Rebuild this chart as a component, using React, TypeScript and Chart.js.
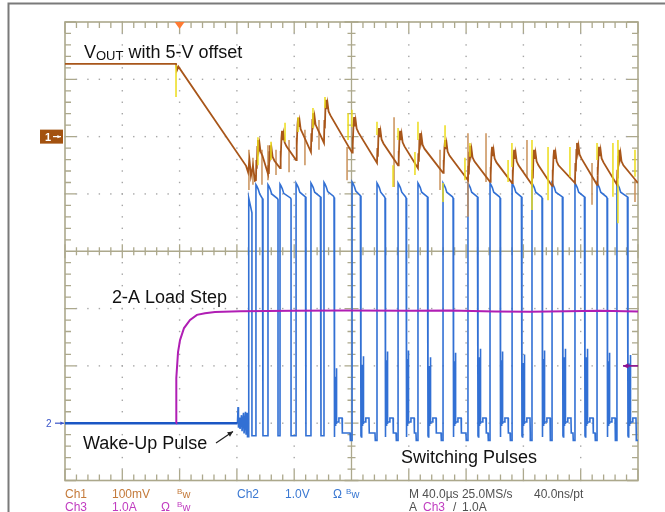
import React, { useEffect, useRef } from "react";
import { Chart, registerables } from "chart.js";

Chart.register(...registerables);

// ---------------- DATA (time in µs, amplitude in scope divisions) ----------------
const timeMinUs = 0;
const timeMaxUs = 400; // 10 div x 40 µs
const divMin = -4;
const divMax = 4;
const xDivCount = 10;
const yDivCount = 8;
const minorPerDiv = 5;

// Ch2 (switch node) – switching pulse edges
const pulseRiseUs = [128.4, 133.3, 141.7, 150.1, 161.3, 171.7, 180.8, 200.4, 217.8, 232.5, 246.4, 263.9, 281.3, 296.7, 312.1, 326.0, 340.0, 356.0, 371.4, 385.3];
const pulseFallUs = [130.5, 138.2, 148.7, 157.8, 168.2, 178.7, 187.8, 206.6, 223.4, 238.1, 253.4, 270.9, 288.3, 303.7, 319.0, 333.0, 347.6, 363.0, 378.4, 393.0];
const pulseTopDiv = [0.93, 1.16, 1.16, 1.17, 1.19, 1.19, 1.2, 1.21, 1.19, 1.19, 1.19, 1.19, 1.19, 1.19, 1.19, 1.19, 1.19, 1.19, 1.19, 1.19];
const ringPeakDiv: (number | null)[] = [null, null, null, null, null, null, -2.49, -2.28, -2.2, -2.18, -2.3, -2.22, -2.15, -2.2, -2.25, -2.18, -2.15, -2.15, -2.22, -2.26];
const ch2GroundUs = [0, 120.4];
const ch2GroundDiv = [-3.0, -3.0];
const wakeUs = [120.4, 120.8, 121.1, 121.8, 122.2, 123.2, 123.6, 124.6, 125.0, 126.0, 126.4, 127.1, 127.4, 127.8, 128.0];
const wakeDiv = [-3.0, -2.72, -3.08, -2.9, -3.1, -2.86, -3.14, -2.82, -3.18, -2.8, -3.2, -2.82, -3.25, -2.88, -3.25];
const ch2LowDiv = -3.22;

// Ch1 (VOUT, AC with offset)
const ch1LeadUs = [0, 77.5, 78.2, 79.2, 126.4, 127.8, 128.8, 129.8, 131.2, 132.6];
const ch1LeadDiv = [3.27, 3.27, 3.16, 3.22, 1.49, 1.38, 1.59, 1.31, 1.49, 1.23];
const ch1PeakDiv: (number | null)[] = [null, 1.94, 1.85, 2.1, 2.33, 2.41, 2.64, 2.34, 2.15, 2.1, 2.06, 1.94, 1.84, 1.82, 1.77, 1.77, 1.77, 1.89, 1.82, 1.77];
const ch1TroughDiv: (number | null)[] = [null, 1.24, 1.35, 1.45, 1.59, 1.73, 1.89, 1.72, 1.54, 1.5, 1.45, 1.37, 1.24, 1.21, 1.19, 1.16, 1.14, 1.19, 1.16, 1.16];
const ch1EndDiv = 1.19;

// Ch1 noise spikes (pale) and Ch4 spikes (yellow)
const paleSpikeUs = [128.4, 131.2, 137.5, 141.7, 147.3, 156.4, 167.5, 177.3, 196.9, 229.7, 261.8, 281.3, 293.9, 322.5, 367.9, 397.9];
const paleSpikeTop = [1.77, 1.63, 1.77, 1.85, 1.77, 1.94, 2.12, 2.29, 1.82, 2.34, 1.77, 2.06, 2.06, 1.94, 1.54, 1.24];
const paleSpikeBot = [1.07, 1.16, 1.16, 1.24, 1.33, 1.38, 1.5, 1.77, 1.24, 1.12, 1.07, 0.6, 1.21, 1.28, 0.81, 0.86];
const yellowSpikeUs = [77.5, 134.7, 143.8, 153.6, 162.7, 173.1, 181.5, 197.6, 200.3, 217.8, 229.0, 232.5, 244.3, 246.4, 263.9, 265.3, 279.2, 282.7, 309.3, 312.0, 326.0, 337.2, 352.5, 371.4, 382.5, 386.0, 397.9];
const yellowSpikeTop = [3.25, 1.99, 1.91, 2.24, 2.34, 2.5, 2.69, 2.41, 2.47, 2.26, 1.5, 2.15, 1.73, 2.26, 1.19, 2.2, 1.63, 1.89, 1.59, 1.89, 1.94, 1.82, 1.82, 1.89, 1.89, 1.94, 1.77];
const yellowSpikeBot = [2.69, 1.5, 1.59, 1.91, 2.08, 2.15, 2.5, 1.94, 2.17, 2.03, 1.12, 1.94, 1.33, 1.94, 0.86, 1.82, 1.24, 1.65, 1.21, 1.47, 0.72, 0.89, 1.3, 1.59, 0.95, 0.49, 1.3];

// Ch3 (load current)
const ch3Us = [77.5, 77.7, 78.9, 80.3, 83.1, 87.3, 92.1, 97.7, 104.7, 122.2, 160, 195.5, 240, 268.8, 300, 324.6, 350, 373.5, 400];
const ch3Div = [-3.0, -2.21, -1.76, -1.55, -1.34, -1.2, -1.11, -1.08, -1.06, -1.045, -1.04, -1.035, -1.04, -1.035, -1.05, -1.055, -1.045, -1.04, -1.05];

const triggerUs = 80;
const triggerLevelDiv = -2;
const ch1RefDiv = 2;
const ch2RefDiv = -3;

// ---------------- COLORS ----------------
const C_CH1 = "#a8561a";
const C_CH1_PALE = "#c99058";
const C_CH2 = "#3270d4";
const C_CH2_DARK = "#1a56c4";
const C_CH3 = "#b01eb4";
const C_CH4 = "#ecdc1a";
const C_GRAT = "#aca88c";
const FONT = "'Liberation Sans', Arial, sans-serif";

type P = { x: number; y: number | null };

function buildCh2(): P[] {
  const pts: P[] = wakeUs.map((x, i) => ({ x, y: wakeDiv[i] }));
  for (let i = 0; i < pulseRiseUs.length; i++) {
    const r = pulseRiseUs[i];
    const f = pulseFallUs[i];
    const h = pulseTopDiv[i];
    const s = ringPeakDiv[i];
    const n = i + 1 < pulseRiseUs.length ? pulseRiseUs[i + 1] : timeMaxUs;
    pts.push({ x: r, y: ch2LowDiv }, { x: r, y: h });
    if (f - r > 3) {
      pts.push({ x: r + 0.7, y: h - 0.03 }, { x: r + 1.6, y: h - 0.08 }, { x: r + 2.6, y: h - 0.16 });
    }
    if (f - 0.4 > r + 2.6) pts.push({ x: f - 0.4, y: h - 0.24 });
    pts.push({ x: f, y: h - 0.26 }, { x: f, y: ch2LowDiv });
    if (s == null) {
      pts.push({ x: n, y: ch2LowDiv });
    } else {
      pts.push(
        { x: f + 0.3, y: -3.24 }, { x: f + 0.45, y: s }, { x: f + 0.6, y: -3.05 },
        { x: f + 0.75, y: s + 0.05 }, { x: f + 0.9, y: -3.0 }, { x: f + 1.05, y: s + 0.15 },
        { x: f + 1.2, y: -3.05 }, { x: f + 1.35, y: s + 0.3 }, { x: f + 1.5, y: -3.0 },
        { x: f + 1.65, y: s + 0.45 }, { x: f + 1.9, y: -2.98 },
        { x: f + 3.2, y: -2.98 }, { x: f + 3.4, y: -2.91 },
        { x: f + 5.6, y: -2.91 }, { x: f + 5.8, y: -3.17 }
      );
      const a2 = Math.max(f + 5.8, n - 1.4);
      pts.push({ x: a2, y: -3.17 }, { x: Math.max(a2, n - 1.2), y: -3.3 }, { x: n, y: -3.3 });
    }
  }
  return pts;
}

function buildCh1(): P[] {
  const pts: P[] = ch1LeadUs.map((x, i) => ({ x, y: ch1LeadDiv[i] }));
  for (let i = 1; i < pulseRiseUs.length; i++) {
    const r = pulseRiseUs[i];
    const p = ch1PeakDiv[i] as number;
    const t = ch1TroughDiv[i] as number;
    pts.push(
      { x: r, y: t }, { x: r + 0.3, y: p - 0.35 }, { x: r + 0.6, y: p - 0.5 },
      { x: r + 1.0, y: p - 0.12 }, { x: r + 1.4, y: p }, { x: r + 2.0, y: p - 0.16 },
      { x: r + 2.5, y: p - 0.06 }, { x: r + 3.2, y: p - 0.2 }, { x: r + 4.5, y: p - 0.27 }
    );
  }
  pts.push({ x: timeMaxUs, y: ch1EndDiv });
  return pts;
}

function spikes(xs: number[], tops: number[], bots: number[]): P[] {
  const pts: P[] = [];
  xs.forEach((x, i) => {
    pts.push({ x, y: tops[i] }, { x, y: bots[i] }, { x, y: null });
  });
  return pts;
}

const graticulePlugin = {
  id: "graticule",
  beforeDatasetsDraw(chart: any) {
    const { ctx, chartArea: a, scales } = chart;
    const xs = scales.x;
    const ys = scales.y;
    const xStep = (timeMaxUs - timeMinUs) / xDivCount;
    const yStep = (divMax - divMin) / yDivCount;
    const cx = xs.getPixelForValue((timeMinUs + timeMaxUs) / 2);
    const cy = ys.getPixelForValue(0);
    ctx.save();
    ctx.fillStyle = "#a6a6a6";
    for (let i = 1; i < xDivCount; i++) {
      if (i === xDivCount / 2) continue;
      const px = xs.getPixelForValue(timeMinUs + i * xStep);
      for (let k = 0; k <= yDivCount * minorPerDiv; k++) {
        const py = ys.getPixelForValue(divMin + (k * yStep) / minorPerDiv);
        ctx.fillRect(px - 0.7, py - 0.7, 1.4, 1.4);
      }
    }
    for (let j = 1; j < yDivCount; j++) {
      if (j === yDivCount / 2) continue;
      const py = ys.getPixelForValue(divMin + j * yStep);
      for (let k = 0; k <= xDivCount * minorPerDiv; k++) {
        const px = xs.getPixelForValue(timeMinUs + (k * xStep) / minorPerDiv);
        ctx.fillRect(px - 0.7, py - 0.7, 1.4, 1.4);
      }
    }
    ctx.strokeStyle = C_GRAT;
    ctx.lineWidth = 1.3;
    ctx.beginPath();
    ctx.moveTo(cx, a.top);
    ctx.lineTo(cx, a.bottom);
    ctx.moveTo(a.left, cy);
    ctx.lineTo(a.right, cy);
    for (let k = 0; k <= xDivCount * minorPerDiv; k++) {
      const px = xs.getPixelForValue(timeMinUs + (k * xStep) / minorPerDiv);
      const major = k % minorPerDiv === 0;
      const lc = major ? 7 : 4;
      const le = major ? 11 : 6;
      ctx.moveTo(px, cy - lc);
      ctx.lineTo(px, cy + lc);
      ctx.moveTo(px, a.top);
      ctx.lineTo(px, a.top + le);
      ctx.moveTo(px, a.bottom);
      ctx.lineTo(px, a.bottom - le);
    }
    for (let k = 0; k <= yDivCount * minorPerDiv; k++) {
      const py = ys.getPixelForValue(divMin + (k * yStep) / minorPerDiv);
      const major = k % minorPerDiv === 0;
      const lc = major ? 7 : 4;
      const le = major ? 11 : 6;
      ctx.moveTo(cx - lc, py);
      ctx.lineTo(cx + lc, py);
      ctx.moveTo(a.left, py);
      ctx.lineTo(a.left + le, py);
      ctx.moveTo(a.right, py);
      ctx.lineTo(a.right - le, py);
    }
    ctx.stroke();
    ctx.lineWidth = 1.6;
    ctx.strokeRect(a.left, a.top, a.right - a.left, a.bottom - a.top);
    ctx.restore();
  },
};

function arrow(ctx: CanvasRenderingContext2D, x1: number, y1: number, x2: number, y2: number, color: string, head: number, w: number) {
  ctx.strokeStyle = color;
  ctx.fillStyle = color;
  ctx.lineWidth = w;
  ctx.beginPath();
  ctx.moveTo(x1, y1);
  ctx.lineTo(x2, y2);
  ctx.stroke();
  const ang = Math.atan2(y2 - y1, x2 - x1);
  ctx.beginPath();
  ctx.moveTo(x2, y2);
  ctx.lineTo(x2 - head * Math.cos(ang - 0.45), y2 - head * Math.sin(ang - 0.45));
  ctx.lineTo(x2 - head * Math.cos(ang + 0.45), y2 - head * Math.sin(ang + 0.45));
  ctx.closePath();
  ctx.fill();
}

const annotationPlugin = {
  id: "scopeText",
  afterDraw(chart: any) {
    const { ctx, chartArea: a, scales } = chart;
    const xs = scales.x;
    const ys = scales.y;
    ctx.save();
    ctx.textBaseline = "alphabetic";
    ctx.strokeStyle = "#7a7a7a";
    ctx.lineWidth = 2;
    ctx.beginPath();
    ctx.moveTo(8.5, 512);
    ctx.lineTo(8.5, 3.5);
    ctx.lineTo(665, 3.5);
    ctx.stroke();

    const tx = xs.getPixelForValue(triggerUs);
    ctx.fillStyle = "#ff7a32";
    ctx.beginPath();
    ctx.moveTo(tx - 5, a.top);
    ctx.lineTo(tx + 5, a.top);
    ctx.lineTo(tx, a.top + 7);
    ctx.closePath();
    ctx.fill();

    const r1 = ys.getPixelForValue(ch1RefDiv);
    ctx.fillStyle = "#a3520f";
    ctx.fillRect(40, r1 - 7, 23, 14);
    ctx.fillStyle = "#fff";
    ctx.font = `bold 11px ${FONT}`;
    ctx.fillText("1", 45, r1 + 4);
    arrow(ctx, 53, r1, 61, r1, "#fff", 4, 1.2);

    const r2 = ys.getPixelForValue(ch2RefDiv);
    ctx.fillStyle = "#3a55c8";
    ctx.font = `10px ${FONT}`;
    ctx.fillText("2", 46, r2 + 4);
    arrow(ctx, 55, r2, 64, r2, "#3a55c8", 4, 1.2);

    const tl = ys.getPixelForValue(triggerLevelDiv);
    arrow(ctx, a.right, tl, a.right - 15, tl, "#8a1090", 6, 1.6);

    ctx.fillStyle = "#111";
    ctx.font = `18px ${FONT}`;
    ctx.fillText("V", 84, 58);
    const vW = ctx.measureText("V").width;
    ctx.font = `13px ${FONT}`;
    ctx.fillText("OUT", 84 + vW, 59.5);
    const oW = ctx.measureText("OUT").width;
    ctx.font = `18px ${FONT}`;
    ctx.fillText(" with 5-V offset", 84 + vW + oW, 58);
    ctx.fillText("2-A Load Step", 112, 303);
    ctx.fillText("Wake-Up Pulse", 83, 449);
    ctx.fillText("Switching Pulses", 401, 463);
    arrow(ctx, 216, 443, 233, 431.5, "#222", 6, 1.2);

    const sm = `12px ${FONT}`;
    const bw = (x: number, y: number, col: string) => {
      ctx.fillStyle = col;
      ctx.font = `8px ${FONT}`;
      ctx.fillText("B", x, y - 4);
      ctx.font = `11px ${FONT}`;
      ctx.fillText("w", x + 5.5, y);
    };
    const t = (s: string, x: number, y: number, col: string) => {
      ctx.font = sm;
      ctx.fillStyle = col;
      ctx.fillText(s, x, y);
    };
    const cb = "#c47a3a";
    const cblue = "#3a78d2";
    const cmag = "#c03cc0";
    const cg = "#505050";
    t("Ch1", 65, 498, cb);
    t("100mV", 112, 498, cb);
    bw(177, 498, cb);
    t("Ch2", 237, 498, cblue);
    t("1.0V", 285, 498, cblue);
    t("Ω", 333, 498, cblue);
    bw(346, 498, cblue);
    t("M 40.0µs 25.0MS/s", 409, 498, cg);
    t("40.0ns/pt", 534, 498, cg);
    t("Ch3", 65, 511, cmag);
    t("1.0A", 112, 511, cmag);
    t("Ω", 161, 511, cmag);
    bw(177, 511, cmag);
    t("A", 409, 511, cg);
    t("Ch3", 423, 511, cmag);
    t("/", 453, 511, cg);
    t("1.0A", 462, 511, cg);
    ctx.restore();
  },
};

export default function App() {
  const ref = useRef<HTMLCanvasElement>(null);
  useEffect(() => {
    if (!ref.current) return;
    const line = (data: P[], color: string, width: number) => ({
      data,
      borderColor: color,
      borderWidth: width,
      pointRadius: 0,
      tension: 0,
      fill: false,
      spanGaps: false,
    });
    const chart = new Chart(ref.current, {
      type: "line",
      data: {
        datasets: [
          line(spikes(yellowSpikeUs, yellowSpikeTop, yellowSpikeBot), C_CH4, 1.5),
          line(buildCh1(), C_CH1, 1.8),
          line(spikes(paleSpikeUs, paleSpikeTop, paleSpikeBot), C_CH1_PALE, 1.5),
          line(ch3Us.map((x, i) => ({ x, y: ch3Div[i] })), C_CH3, 2),
          line(ch2GroundUs.map((x, i) => ({ x, y: ch2GroundDiv[i] })), C_CH2_DARK, 2.6),
          line(buildCh2(), C_CH2, 1.6),
        ] as any,
      },
      options: {
        animation: false,
        responsive: false,
        maintainAspectRatio: false,
        devicePixelRatio: 1,
        events: [],
        layout: { padding: { left: 65, right: 27, top: 22, bottom: 31.5 } },
        scales: {
          x: { type: "linear", min: timeMinUs, max: timeMaxUs, display: false },
          y: { type: "linear", min: divMin, max: divMax, display: false },
        },
        plugins: { legend: { display: false }, tooltip: { enabled: false } },
      } as any,
      plugins: [graticulePlugin, annotationPlugin],
    });
    return () => chart.destroy();
  }, []);
  return (
    <div style={{ position: "absolute", left: 0, top: 0, width: 665, height: 512, background: "#fff" }}>
      <canvas ref={ref} width={665} height={512} style={{ display: "block", width: 665, height: 512 }} />
    </div>
  );
}
